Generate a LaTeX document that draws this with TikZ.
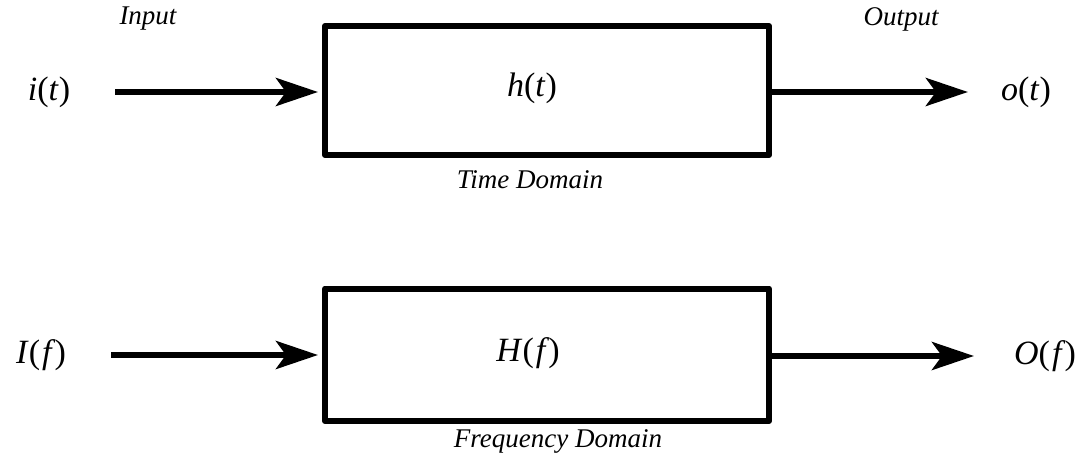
\documentclass[tikz,border=0pt]{standalone}
\usepackage{fontspec}
\setmainfont{Liberation Serif}
\usetikzlibrary{arrows.meta}

% signal names in italic, brackets upright
\newcommand{\sgn}[2]{\textit{#1}(\textit{#2})}

\tikzset{
  sysbox/.style={draw, line width=6pt, line join=round, minimum width=444pt,
    inner sep=0pt},
  sig/.style={inner sep=0pt, font=\fontsize{34}{38}\selectfont},
  note/.style={inner sep=0pt, font=\fontsize{27}{30}\selectfont\itshape},
  flow/.style={line width=6pt, -{Stealth[length=42pt,width=28pt,inset=10pt]}}
}

\begin{document}
\begin{tikzpicture}[x=1pt,y=-1pt]
  \useasboundingbox (0,0) rectangle (1084,461);

  % time domain
  \node[sysbox, minimum height=129pt,
    label={[sig, xshift=-15pt, yshift=2.5pt]center:\sgn{h}{t}}] (ht) at (547,90.5) {};
  \node[sig] (it) at (49,92) {\sgn{i}{t}};
  \node[sig] (ot) at (1026,92) {\sgn{o}{t}};
  \node[note] (in) at (148,19) {Input};
  \node[note] (out) at (901,19) {Output};
  \node[note] (td) at (530,180) {Time Domain};
  \draw[flow, shorten <=45pt, shorten >=4pt] (it) -- (it -| ht.west);
  \draw[flow, shorten >=33pt] (ht.east |- ot) -- (ot);

  % frequency domain
  \node[sysbox, minimum height=132.5pt,
    label={[sig, xshift=-19pt, yshift=2pt]center:\sgn{H}{\kern2pt f\kern3pt}}] (hf) at (547,354.75) {};
  \node[sig] (if) at (41,355) {\sgn{I}{\kern2pt f\kern3pt}};
  \node[sig] (of) at (1045,356) {\sgn{O}{\kern2pt f\kern3pt}};
  \node[note] (fd) at (558,441) {Frequency Domain};
  \draw[flow, shorten <=45pt, shorten >=4pt] (if) -- (if -| hf.west);
  \draw[flow, shorten >=40pt] (hf.east |- of) -- (of);
\end{tikzpicture}
\end{document}
